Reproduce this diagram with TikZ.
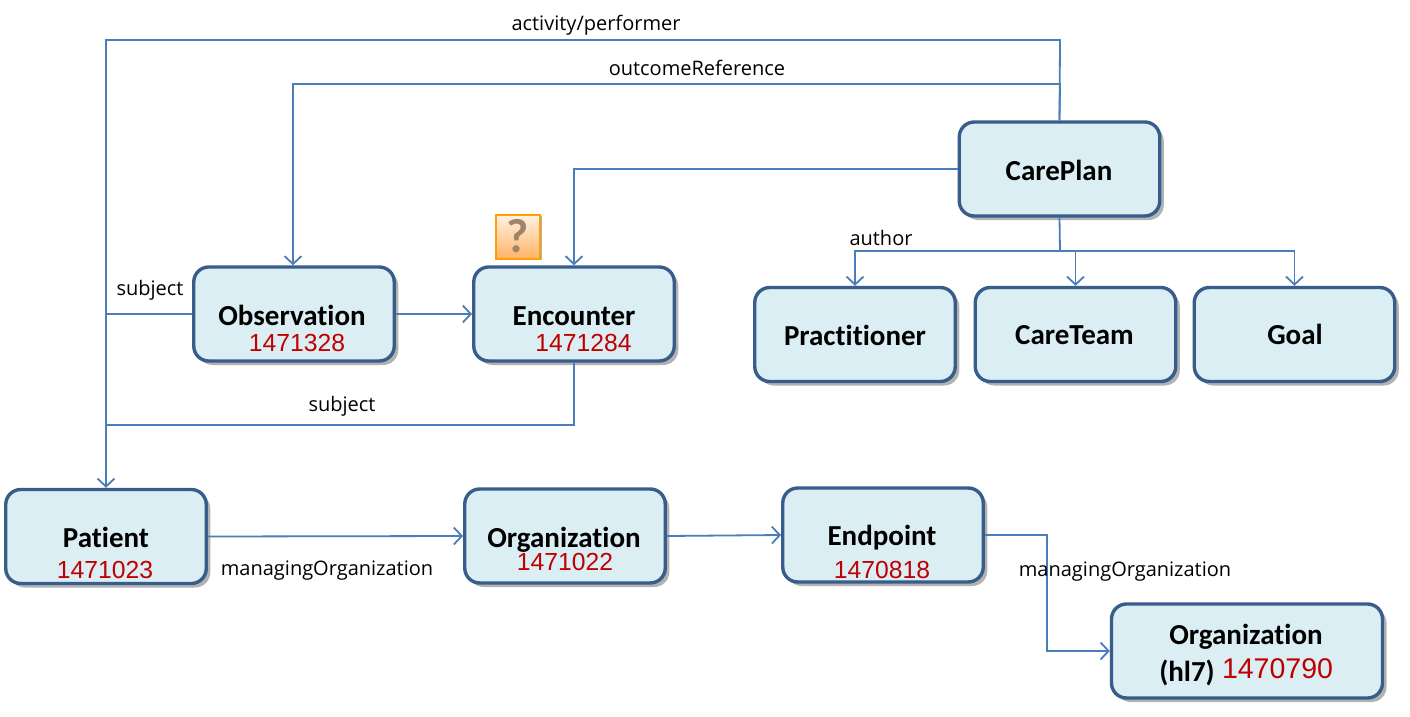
\documentclass[tikz,border=0pt]{standalone}
\usepackage{fontspec}
\setmainfont{Open Sans}
\newfontfamily\namefont[Ligatures=NoCommon]{Carlito}
\newfontfamily\numfont{Liberation Sans}
\usetikzlibrary{arrows.meta,shadows}
\definecolor{boxfill}{HTML}{DBEEF4}
\definecolor{boxline}{HTML}{385D8A}
\definecolor{linkblue}{HTML}{4A7EBB}
\definecolor{idred}{HTML}{C00000}
\definecolor{querymark}{HTML}{A08468}
\tikzset{
  resbox/.style={draw=boxline, line width=3.4pt, fill=boxfill, rounded corners=15pt, minimum width=200.5pt, minimum height=94pt, inner sep=0pt,
    drop shadow={shadow xshift=4pt, shadow yshift=-4pt, opacity=0.3, fill=black}},
  resname/.style={font=\namefont\bfseries\fontsize{29}{32}\selectfont, text=black, inner sep=0pt},
  resid/.style={font=\numfont\fontsize{24.7}{28}\selectfont, text=idred, inner sep=0pt},
  link/.style={draw=linkblue, line width=1.8pt},
  linkto/.style={link, -{Straight Barb[length=8pt,width=17pt,line width=1.8pt]}},
  linklabel/.style={font=\fontsize{20}{24}\selectfont, text=black, inner sep=0pt}
}
\begin{document}
\begin{tikzpicture}[x=1pt,y=-1pt]
\useasboundingbox (0,0) rectangle (1410,717);
\node[resbox] (careplan) at (1059.5,169){};
\node[resbox] (practitioner) at (855,334.5){};
\node[resbox] (careteam) at (1075.5,334.5){};
\node[resbox] (goal) at (1294.5,334.5){};
\node[resbox] (observation) at (294,314){};
\node[resbox] (encounter) at (574,314){};
\node[resbox] (patient) at (106,536.5){};
\node[resbox] (organization) at (565,536){};
\node[resbox] (endpoint) at (883,535){};
\node[resbox, minimum width=271pt] (orghl) at (1247,651){};
% names and ids
\node[resname] (careplanname) at (1059,170){CarePlan};
\node[resname] (practitionername) at (855,335){Practitioner};
\node[resname] (careteamname) at (1074.5,335){CareTeam};
\node[resname] (goalname) at (1295,334.5){Goal};
\node[resname] (observationname) at (292,315){Observation};
\node[resid] (observationid) at (297,342.5){1471328};
\node[resname] (encountername) at (574,316){Encounter};
\node[resid] (encounterid) at (583.5,342.5){1471284};
\node[resname] (patientname) at (106,537){Patient};
\node[resid] (patientid) at (105,570){1471023};
\node[resname] (organizationname) at (564,540){Organization};
\node[resid] (organizationid) at (565,561.5){1471022};
\node[resname] (endpointname) at (882,537.5){Endpoint};
\node[resid] (endpointid) at (882,569.5){1470818};
\node[resname] (orghlname) at (1246,637){Organization};
\node[resname] (orghlsub) at (1187,673){(hl7)};
\node[resid, font=\numfont\fontsize{28.5}{32}\selectfont] (orghlid) at (1277.5,669){1470790};
% question mark
\node[draw=orange!75!yellow, line width=2pt, minimum size=44pt, inner sep=0pt, top color=orange!10, bottom color=orange!60,
  font=\namefont\bfseries\fontsize{48}{52}\selectfont, text=querymark,
  drop shadow={shadow xshift=1.5pt, shadow yshift=-1.5pt, opacity=0.3, fill=black}] (query) at (518,236.5){?};
% turning points
\coordinate (perfa) at (1060,40);
\coordinate (perfb) at (106,40);
\coordinate (outa) at (1060,84);
\coordinate (outb) at (293,84);
\coordinate (enca) at (574,169);
\coordinate (authora) at (1060,251);
\coordinate (authorb) at (855,251);
\coordinate (teama) at (1075.5,251);
\coordinate (goala) at (1294.5,251);
\coordinate (subja) at (106,314);
\coordinate (subjb) at (574,425);
\coordinate (subjc) at (106,425);
\coordinate (mana) at (1047,535);
\coordinate (manb) at (1047,651);
% connectors
\draw[linkto](careplan.north) -- (perfa) -- (perfb) -- (patient.north);
\draw[linkto](careplan.north) -- (outa) -- (outb) -- (outb |- observation.north);
\draw[linkto](careplan.west) -- (enca) -- (encounter.north);
\draw[linkto](careplan.south) -- (authora) -- (authorb) -- (practitioner.north);
\draw[linkto](authora) -- (teama) -- (careteam.north);
\draw[linkto](authora) -- (goala) -- (goal.north);
\draw[link](observation.west) -- (subja);
\draw[linkto](observation.east) -- (encounter.west);
\draw[link](encounter.south) -- (subjb) -- (subjc);
\draw[linkto](patient.east) -- (organization.west);
\draw[linkto](organization.east) -- (endpoint.west);
\draw[linkto](endpoint.east) -- (mana) -- (manb) -- (orghl.west);
% labels
\node[linklabel] (performerlabel) at (596,25){activity/performer};
\node[linklabel] (outcomelabel) at (697,68){outcomeReference};
\node[linklabel] (authorlabel) at (881,238){author};
\node[linklabel] (subjectlabela) at (150,290){subject};
\node[linklabel] (subjectlabelb) at (342,406){subject};
\node[linklabel] (managinglabela) at (327,571){managingOrganization};
\node[linklabel] (managinglabelb) at (1125,572){managingOrganization};
\end{tikzpicture}
\end{document}
